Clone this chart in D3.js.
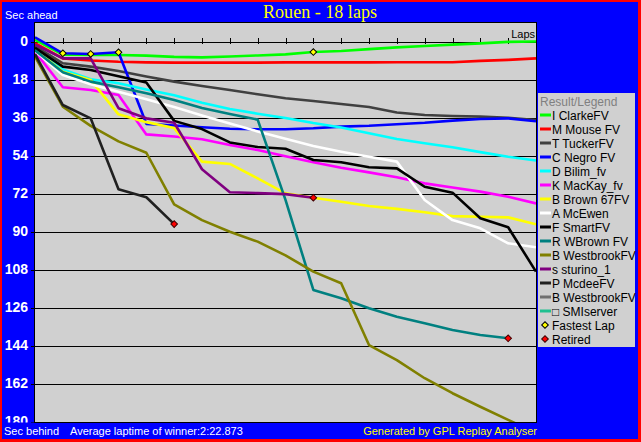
<!DOCTYPE html>
<html><head><meta charset="utf-8">
<script src="https://cdn.jsdelivr.net/npm/d3@7"></script>
<style>
body{margin:0;background:#fff}
svg{display:block}
text{font-family:"Liberation Sans",Arial,sans-serif}
</style>
</head><body>
<svg id="c" width="641" height="442"></svg>
<script>
// ---------- data ----------
const title = "Rouen - 18 laps";
const lapTicks = d3.range(1, 18);
const yTickValues = [0, 18, 36, 54, 72, 90, 108, 126, 144, 162, 180];

const driverNames = ["I ClarkeFV","M Mouse FV","T TuckerFV","C Negro FV","D Bilim_fv","K MacKay_fv",
  "B Brown 67FV","A McEwen","F SmartFV","R WBrown FV","B WestbrookFV","s sturino_1","P McdeeFV",
  "B WestbrookFV","\u25A1 SMIserver"];
const driverColors = ["#00ff00","#ff0000","#404040","#0000ff","#00ffff","#ff00ff","#ffff00","#ffffff",
  "#000000","#008080","#808000","#800080","#202020","#707070","#20c090"];

// seconds behind (per lap 0..18)
const clarke   = [-0.8, 6.2, 6.4, 6.4, 6.7, 7.3, 7.5, 7.1, 6.6, 6.1, 5.0, 4.5, 3.6, 2.8, 2.1, 1.5, 0.9, 0.2, 0.0];
const mouse    = [0.8, 8.0, 9.0, 9.6, 9.9, 10.0, 10.0, 10.0, 10.0, 9.9, 9.9, 9.9, 9.9, 9.8, 9.8, 9.8, 9.2, 8.7, 8.0];
const tucker   = [2.2, 10.3, 11.9, 14.0, 16.6, 19.0, 21.1, 23.0, 25.0, 26.9, 28.2, 29.6, 31.0, 33.6, 34.8, 35.3, 35.6, 36.1, 37.2];
const negro    = [-2.0, 5.6, 5.9, 5.1, 39.0, 39.8, 40.6, 41.3, 41.6, 41.6, 41.1, 40.3, 39.9, 39.2, 38.5, 37.5, 36.7, 36.4, 37.8];
const bilim    = [3.5, 13.2, 17.9, 19.8, 22.7, 25.5, 29.0, 32.0, 34.2, 36.2, 38.6, 40.7, 43.5, 46.2, 48.2, 50.1, 52.4, 54.6, 56.4];
const mackay   = [4.8, 21.7, 23.0, 25.3, 44.0, 45.0, 46.3, 49.0, 51.4, 54.4, 57.2, 59.8, 62.0, 64.3, 67.2, 69.2, 71.1, 73.5, 76.7];
const brown67  = [3.8, 14.3, 18.2, 34.5, 38.2, 41.0, 56.9, 58.0, 64.8, 71.9, 74.0, 75.9, 77.9, 79.3, 80.9, 82.7, 83.0, 83.3, 86.6];
const mcewen   = [4.5, 15.9, 20.3, 23.8, 27.4, 31.0, 35.0, 38.8, 42.6, 46.1, 49.5, 52.2, 54.6, 56.9, 75.1, 84.6, 88.5, 95.6, 97.5];
const smart    = [3.0, 11.9, 13.5, 16.5, 19.4, 37.6, 41.5, 47.8, 50.0, 50.8, 56.1, 57.2, 59.6, 60.1, 68.8, 71.6, 83.7, 88.0, 109.0];
const wbrown   = [4.2, 14.6, 19.0, 21.7, 24.5, 27.7, 31.5, 34.3, 37.0, 75.0, 117.7, 121.6, 126.4, 130.4, 133.5, 136.7, 139.0, 140.6];
const westbrook= [7.2, 30.9, 40.0, 47.3, 52.7, 77.2, 84.6, 90.1, 94.8, 101.3, 109.0, 114.5, 143.8, 150.9, 159.5, 166.6, 173.0, 179.2, 185.5];
const sturino  = [1.5, 8.0, 8.0, 31.6, 36.4, 38.5, 60.5, 71.4, 71.8, 72.3, 74.0];
const mcdee    = [6.0, 30.1, 36.4, 70.0, 73.8, 86.5];
const westbrook2 = [];
const smiserver  = [];

const seriesValues = [clarke, mouse, tucker, negro, bilim, mackay, brown67, mcewen, smart, wbrown,
  westbrook, sturino, mcdee, westbrook2, smiserver];

const retiredDrivers = [12, 11, 9];           // indexes into driverNames
const fastestLapLaps = [1, 2, 3, 10];
const fastestLapDrivers = [3, 3, 3, 0];

// ---------- drawing ----------
const W = 641, H = 442;
const svg = d3.select("#c");

svg.append("rect").attr("width", W).attr("height", H).attr("fill", "#ff0000");
svg.append("rect").attr("x", 2).attr("y", 2).attr("width", 636).attr("height", 437).attr("fill", "#0000ff");

const x = d3.scaleLinear().domain([0, 18]).range([35, 536]);
const y = d3.scaleLinear().domain([0, 180]).range([41.5, 421.5]);

// plot background
svg.append("rect").attr("x", 34.5).attr("y", 22.5).attr("width", 502).attr("height", 400)
  .attr("fill", "#d0d0d0").attr("stroke", "#000").attr("stroke-width", 1);

// title and captions
svg.append("text").attr("x", 320).attr("y", 18).attr("text-anchor", "middle")
  .attr("fill", "#ffff00").style("font-family", "'Liberation Serif','Times New Roman',serif")
  .style("font-size", "19px").attr("textLength", 114).attr("lengthAdjust", "spacingAndGlyphs").text(title);
svg.append("text").attr("x", 5).attr("y", 19).attr("fill", "#fff").style("font-size", "11px").text("Sec ahead");
svg.append("text").attr("x", 535).attr("y", 37.5).attr("text-anchor", "end").attr("fill", "#000")
  .style("font-size", "11px").text("Laps");

// clips
const defs = svg.append("defs");
defs.append("clipPath").attr("id", "labclip").append("rect").attr("x", -40).attr("y", 0).attr("width", 641).attr("height", 422.5);
defs.append("clipPath").attr("id", "plotclip").append("rect").attr("x", 35).attr("y", 23).attr("width", 501).attr("height", 399);

// y axis gridlines + labels
const yAxis = d3.axisLeft(y).tickValues(yTickValues).tickSizeInner(-501).tickSizeOuter(0).tickPadding(7);
const gy = svg.append("g").attr("transform", "translate(35,0)").attr("clip-path", "url(#labclip)").call(yAxis);
gy.select(".domain").remove();
gy.selectAll(".tick line").attr("stroke", "#000").attr("shape-rendering", "crispEdges");
gy.selectAll(".tick").append("line").attr("x1", -4).attr("x2", 0).attr("stroke", "#000").attr("shape-rendering", "crispEdges");
gy.selectAll(".tick text").attr("fill", "#fff").style("font-size", "14px").style("font-weight", "bold")
  .style("font-family", "'Liberation Sans',Arial,sans-serif");

// x axis ticks along the zero line
const xTop = d3.axisTop(x).tickValues(lapTicks).tickSize(4).tickFormat("");
const gxT = svg.append("g").attr("transform", `translate(0,${y(0)})`).call(xTop);
gxT.select(".domain").remove();
gxT.selectAll("line").attr("stroke", "#000").attr("shape-rendering", "crispEdges");
const xBot = d3.axisBottom(x).tickValues(lapTicks).tickSize(2).tickFormat("");
const gxB = svg.append("g").attr("transform", `translate(0,${y(0)})`).call(xBot);
gxB.select(".domain").remove();
gxB.selectAll("line").attr("stroke", "#000").attr("shape-rendering", "crispEdges");

// series lines
const line = d3.line().x((d, i) => x(i)).y(d => y(d));
const gl = svg.append("g").attr("clip-path", "url(#plotclip)");
seriesValues.forEach((vals, k) => {
  if (!vals.length) return;
  gl.append("path").datum(vals).attr("d", line).attr("fill", "none")
    .attr("stroke", driverColors[k]).attr("stroke-width", 2.6).attr("stroke-linejoin", "round");
});

// markers
const diamond = d3.symbol().type(d3.symbolSquare).size(22);
fastestLapLaps.forEach((lap, j) => {
  const v = seriesValues[fastestLapDrivers[j]][lap];
  gl.append("path").attr("d", diamond).attr("transform", `translate(${x(lap)},${y(v)}) rotate(45)`)
    .attr("fill", "#ffff00").attr("stroke", "#000").attr("stroke-width", 1);
});
retiredDrivers.forEach(k => {
  const vals = seriesValues[k];
  const lap = vals.length - 1;
  gl.append("path").attr("d", diamond).attr("transform", `translate(${x(lap)},${y(vals[lap])}) rotate(45)`)
    .attr("fill", "#ff0000").attr("stroke", "#400000").attr("stroke-width", 1);
});

// legend
const lg = svg.append("g");
lg.append("rect").attr("x", 538).attr("y", 93).attr("width", 97).attr("height", 254).attr("fill", "#d0d0d0");
lg.append("text").attr("x", 540).attr("y", 105.5).attr("fill", "#808080").style("font-size", "12px").text("Result/Legend");
driverNames.forEach((name, i) => {
  const cy = 115 + 14 * i;
  lg.append("line").attr("x1", 540).attr("x2", 551).attr("y1", cy).attr("y2", cy)
    .attr("stroke", driverColors[i]).attr("stroke-width", 3);
  lg.append("text").attr("x", 552).attr("y", cy + 4.5).attr("fill", "#000").style("font-size", "12px").text(name);
});
const extra = [["Fastest Lap", "#ffff00", "#000"], ["Retired", "#ff0000", "#400000"]];
extra.forEach((e, j) => {
  const cy = 115 + 14 * (driverNames.length + j);
  lg.append("path").attr("d", diamond).attr("transform", `translate(545,${cy}) rotate(45)`)
    .attr("fill", e[1]).attr("stroke", e[2]).attr("stroke-width", 1);
  lg.append("text").attr("x", 552).attr("y", cy + 4.5).attr("fill", "#000").style("font-size", "12px").text(e[0]);
});

// bottom captions
svg.append("text").attr("x", 4).attr("y", 435).attr("fill", "#fff").style("font-size", "11px").text("Sec behind");
svg.append("text").attr("x", 70).attr("y", 435).attr("fill", "#fff").style("font-size", "11px")
  .text("Average laptime of winner:2:22.873");
svg.append("text").attr("x", 537).attr("y", 435).attr("text-anchor", "end").attr("fill", "#ffff00")
  .style("font-size", "11px").text("Generated by GPL Replay Analyser");
</script>
</body></html>
